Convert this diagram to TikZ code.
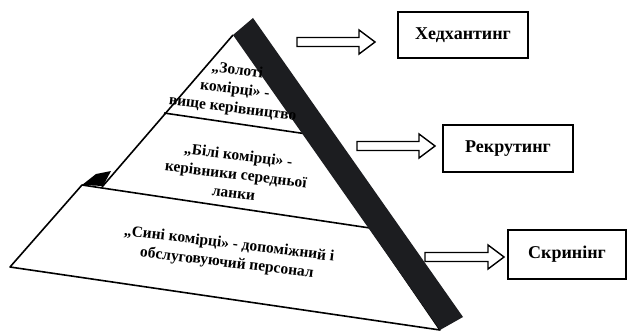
\documentclass[tikz,border=0pt]{standalone}
\usepackage{fontspec}
\setmainfont{Liberation Serif}
\usetikzlibrary{calc}
\definecolor{banddark}{HTML}{1C1D20}
\tikzset{
  edge/.style={line width=1.6pt, line join=round},
  tiertext/.style={font=\bfseries\fontsize{15.5}{19}\selectfont, align=center, rotate=-7, inner sep=0pt},
  labelbox/.style={draw, line width=1.4pt, font=\bfseries\fontsize{18}{21}\selectfont, inner sep=0pt},
  arrowline/.style={draw, line width=1.4pt, fill=white, line join=miter}
}
\newcommand\hollowarrow[2]{%
  \path[arrowline] let \p1=(#1), \p2=(#2) in
    (\x1,{\y1+4.5pt}) -- ({\x2-16pt},{\y1+4.5pt}) -- ({\x2-16pt},{\y1+12pt}) -- (\x2,\y1)
    -- ({\x2-16pt},{\y1-12pt}) -- ({\x2-16pt},{\y1-4.5pt}) -- (\x1,{\y1-4.5pt}) -- cycle;}
\begin{document}
\begin{tikzpicture}[x=1pt,y=-1pt]
\useasboundingbox (0,0) rectangle (628,331);
% pyramid coordinates
\coordinate (apex) at (233,35);
\coordinate (lmid) at (102,187);
\coordinate (btl) at (82,185);
\coordinate (bbl) at (10,267);
\coordinate (bbr) at (440,330);
\coordinate (btr) at (370,228);
% upper front face
\fill[white] (apex) -- (lmid) -- (btr) -- cycle;
\draw[edge] (apex) -- (lmid);
% small dark wedge at left
\fill[black] (btl) -- (96,174) -- (111,171) -- (103,186) -- cycle;
% bottom tier
\draw[edge, fill=white] (btl) -- (bbl) -- (bbr) -- (btr) -- cycle;
% top tier separator
\draw[edge] (164,113) -- (307,134);
% dark side band
\fill[banddark] (apex) -- (253,18) -- (463,317) -- (bbr) -- cycle;
% tier texts
\node[tiertext] (t1) at (235,90) {„Золоті\\комірці» -\\вище керівництво};
\node[tiertext] (t2) at (236,174) {„Білі комірці» -\\керівники середньої\\ланки};
\node[tiertext] (t3) at (228,254) {„Сині комірці» - допоміжний і\\обслуговуючий персонал};
% label boxes
\node[labelbox, minimum width=130pt, minimum height=46pt] (b1) at (463,35) {Хедхантинг};
\node[labelbox, minimum width=130pt, minimum height=47pt] (b2) at (508,148.5) {Рекрутинг};
\node[labelbox, minimum width=118pt, minimum height=49pt] (b3) at (567,254.5) {Скринінг};
% arrows
\coordinate (a1s) at (297,42);  \coordinate (a1e) at (375,42);
\coordinate (a2s) at (357,146); \coordinate (a2e) at (435,146);
\coordinate (a3s) at (425,257); \coordinate (a3e) at (504,257);
\hollowarrow{a1s}{a1e}
\hollowarrow{a2s}{a2e}
\hollowarrow{a3s}{a3e}
\end{tikzpicture}
\end{document}
